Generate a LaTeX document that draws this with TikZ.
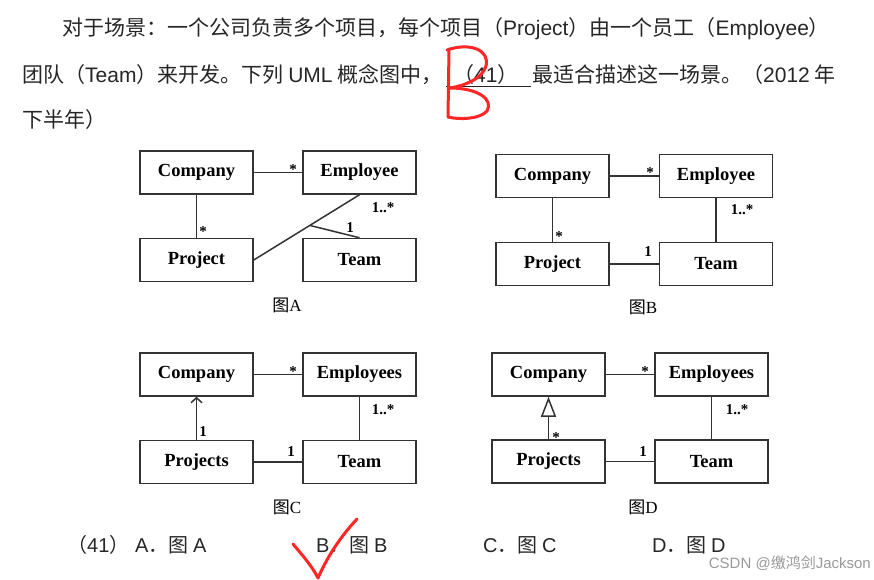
\documentclass[tikz,border=0pt]{standalone}
\usepackage{fontspec}
\setmainfont{Liberation Serif}
\newfontfamily\cjk{Noto Sans CJK SC}
\newfontfamily\lsans{Liberation Sans}
\usetikzlibrary{arrows.meta,calc}
\begin{document}
\begin{tikzpicture}[x=1pt,y=-1pt,
  cls/.style={draw=black!80, line width=1.5pt, minimum width=113pt, minimum height=43pt, inner sep=0pt, font=\fontsize{18.5}{21}\selectfont\bfseries},
  assoc/.style={draw=black!80, line width=1.5pt},
  mult/.style={font=\fontsize{15}{17}\selectfont\bfseries, inner sep=0pt},
  capt/.style={font=\fontsize{17}{19}\selectfont, inner sep=0pt},
  txt/.style={anchor=west, inner sep=0pt, font=\fontsize{21}{25}\selectfont, text=black!85},
  opt/.style={anchor=west, inner sep=0pt, font=\fontsize{20}{24}\selectfont, text=black!85},
  redpen/.style={draw=red!85!white, line width=3pt, line cap=round, line join=round}
]
\useasboundingbox (0,0) rectangle (874,579);
\fill[white] (0,0) rectangle (874,579);

% question text
\node[txt] (t1) at (62,29) {\cjk 对于场景：一个公司负责多个项目，每个项目（{\lsans Project}）由一个员工（{\lsans Employee}）};
\node[txt] (t2) at (22,75) {\cjk 团队（{\lsans Team}）来开发。下列 {\lsans UML} 概念图中，};
\node[txt] (t2b) at (453,75) {\cjk （{\lsans 41}）};
\node[txt] (t2c) at (532,75) {\cjk 最适合描述这一场景。（{\lsans 2012} 年};
\node[txt] (t3) at (22,120) {\cjk 下半年）};
\coordinate (u1) at (446,86);
\coordinate (u2) at (531,86);
\draw[black!85, line width=1pt] (u1) -- (u2);

% Diagram A
\node[cls] (aC) at (196.5,172.5) {Company};
\node[cls] (aE) at (359.5,172.5) {Employee};
\node[cls] (aP) at (196.5,260) {Project};
\node[cls] (aT) at (359.5,260) {Team};
\draw[assoc] (aC) -- (aE);
\draw[assoc] (aC) -- (aP);
\draw[assoc] (aP.east) -- (aE.south);
\coordinate (aJ) at ($(aP.east)!0.53!(aE.south)$);
\draw[assoc] (aJ) -- (aT.north);
\node[mult] (aM1) at (293,170) {*};
\node[mult] (aM2) at (203,232) {*};
\node[mult] (aM3) at (383,208) {1..*};
\node[mult] (aM4) at (350,228) {1};
\node[capt] (aCap) at (287,305) {{\cjk 图}A};

% Diagram B
\node[cls] (bC) at (552.5,176) {Company};
\node[cls] (bE) at (716,176) {Employee};
\node[cls] (bP) at (552.5,264) {Project};
\node[cls] (bT) at (716,264) {Team};
\draw[assoc] (bC) -- (bE);
\draw[assoc] (bC) -- (bP);
\draw[assoc] (bE) -- (bT);
\draw[assoc] (bP) -- (bT);
\node[mult] (bM1) at (650,173) {*};
\node[mult] (bM2) at (559,237) {*};
\node[mult] (bM3) at (742,210) {1..*};
\node[mult] (bM4) at (648,252) {1};
\node[capt] (bCap) at (643,307) {{\cjk 图}B};

% Diagram C
\node[cls] (cC) at (196.5,374.5) {Company};
\node[cls] (cE) at (359.5,374.5) {Employees};
\node[cls] (cP) at (196.5,462) {Projects};
\node[cls] (cT) at (359.5,462) {Team};
\draw[assoc] (cC) -- (cE);
\draw[assoc, -{Straight Barb[length=5pt,width=11pt]}] (cP) -- (cC);
\draw[assoc] (cE) -- (cT);
\draw[assoc] (cP) -- (cT);
\node[mult] (cM1) at (293,372) {*};
\node[mult] (cM2) at (203,432) {1};
\node[mult] (cM3) at (383,410) {1..*};
\node[mult] (cM4) at (291,452) {1};
\node[capt] (cCap) at (287,507) {{\cjk 图}C};

% Diagram D
\node[cls] (dC) at (548.5,374.5) {Company};
\node[cls] (dE) at (711.5,374.5) {Employees};
\node[cls] (dP) at (548.5,461.5) {Projects};
\node[cls] (dT) at (711.5,461.5) {Team};
\draw[assoc] (dC) -- (dE);
\draw[assoc, -{Triangle[open,length=20pt,width=15pt,fill=white]}] (dP) -- (dC);
\draw[assoc] (dE) -- (dT);
\draw[assoc] (dP) -- (dT);
\node[mult] (dM1) at (645,372) {*};
\node[mult] (dM2) at (556,438) {*};
\node[mult] (dM3) at (737,410) {1..*};
\node[mult] (dM4) at (643,452) {1};
\node[capt] (dCap) at (643,507) {{\cjk 图}D};

% options
\node[opt] (o0) at (67,545) {\cjk （{\lsans 41}）};
\node[opt] (oA) at (135,545) {{\lsans A}{\cjk ．图 }{\lsans A}};
\node[opt] (oB) at (316,545) {{\lsans B}{\cjk ．图 }{\lsans B}};
\node[opt] (oC) at (483,545) {{\lsans C}{\cjk ．图 }{\lsans C}};
\node[opt] (oD) at (652,545) {{\lsans D}{\cjk ．图 }{\lsans D}};

% watermark
\node[anchor=east, inner sep=0pt, text=black!40, font=\fontsize{15}{17}\selectfont] (wm) at (871,563) {{\lsans CSDN @}{\cjk 缴鸿剑}{\lsans Jackson}};

% red handwriting: B
\draw[redpen] (449,49) -- (448,117);
\draw[redpen] (447,50) .. controls (470,42) and (490,50) .. (486,66) .. controls (482,80) and (462,86) .. (450,88);
\draw[redpen] (450,88) .. controls (477,88) and (494,99) .. (487,111) .. controls (480,119) and (460,120) .. (448,117);
% red checkmark
\coordinate (k1) at (293,544);
\coordinate (k2) at (318,578);
\coordinate (k3) at (357,519);
\draw[redpen] (k1) .. controls (303,556) and (312,566) .. (k2) .. controls (328,555) and (342,535) .. (k3);
\end{tikzpicture}
\end{document}
